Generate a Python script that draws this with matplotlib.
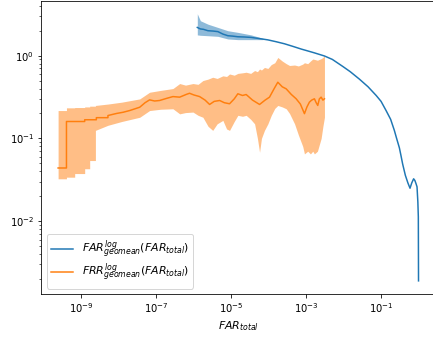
import numpy as np
import matplotlib
matplotlib.use("Agg")
import matplotlib.pyplot as plt

# FAR geomean curve (blue)
far_x = [1.24e-6, 1.5e-6, 1.8e-6, 2.38e-6, 3.3e-6, 4.4e-6, 6.0e-6, 8.1e-6, 1.1e-5,
         1.5e-5, 2.2e-5, 3.4e-5, 6.0e-5, 9.5e-5, 1.6e-4, 2.64e-4, 4.5e-4, 7.4e-4,
         1.1e-3, 1.66e-3, 3.08e-3, 5.0e-3, 9.5e-3, 1.5e-2, 2.64e-2, 4.5e-2,
         7.4e-2, 0.1, 0.136, 0.18, 0.226, 0.26, 0.308, 0.34, 0.377, 0.445,
         0.52, 0.593, 0.66, 0.74, 0.8, 0.857, 0.912, 0.96, 0.988, 1.0]
far_y = [2.19, 2.1, 2.08, 2.0, 1.98, 1.95, 1.82, 1.74, 1.72,
         1.69, 1.68, 1.66, 1.6, 1.55, 1.47, 1.39, 1.29, 1.2,
         1.14, 1.08, 0.99, 0.9, 0.74, 0.64, 0.52, 0.42,
         0.33, 0.28, 0.217, 0.17, 0.125, 0.1, 0.077, 0.062, 0.049, 0.0358,
         0.029, 0.025, 0.029, 0.0325, 0.031, 0.0284, 0.026, 0.017, 0.0113, 0.0019]

far_band_x = [1.24e-6, 1.5e-6, 2.38e-6, 4.4e-6, 8.1e-6, 1.5e-5, 3.4e-5, 7.0e-5]
far_band_hi = [3.2, 2.64, 2.4, 2.19, 2.0, 1.91, 1.78, 1.62]
far_band_lo = [1.78, 1.76, 1.74, 1.71, 1.59, 1.56, 1.56, 1.56]

# FRR geomean curve (orange)
frr_x = [2.38e-10, 3.98e-10, 3.98e-10, 1.22e-9, 1.22e-9, 2.5e-9, 2.5e-9, 5.1e-9,
         5.1e-9, 8.6e-9, 1.3e-8, 1.94e-8, 3.6e-8, 5.0e-8, 6.6e-8, 9.0e-8,
         1.22e-7, 1.9e-7, 2.77e-7, 4.2e-7, 6.3e-7, 7.7e-7, 1.0e-6, 1.43e-6,
         2.0e-6, 2.64e-6, 3.5e-6, 4.9e-6, 6.5e-6, 9.0e-6, 1.2e-5, 1.5e-5,
         2.0e-5, 2.5e-5, 3.7e-5, 5.7e-5, 8.0e-5, 1.05e-4, 1.4e-4, 1.75e-4,
         2.3e-4, 2.93e-4, 4.0e-4, 5.4e-4, 7.0e-4, 9.0e-4, 1.05e-3, 1.22e-3,
         1.4e-3, 1.66e-3, 1.85e-3, 2.04e-3, 2.25e-3, 2.51e-3, 2.8e-3, 3.08e-3]
frr_y = [0.0439, 0.0439, 0.16, 0.16, 0.168, 0.168, 0.178, 0.178,
         0.189, 0.2, 0.207, 0.217, 0.238, 0.27, 0.292, 0.283,
         0.287, 0.305, 0.32, 0.315, 0.34, 0.351, 0.335, 0.32,
         0.29, 0.257, 0.28, 0.287, 0.27, 0.262, 0.3, 0.346,
         0.33, 0.339, 0.29, 0.257, 0.29, 0.315, 0.4, 0.477,
         0.42, 0.397, 0.34, 0.301, 0.26, 0.199, 0.24, 0.274,
         0.29, 0.301, 0.27, 0.25, 0.3, 0.315, 0.29, 0.301]

frr_band_x = [2.38e-10, 3.98e-10, 3.98e-10, 6.6e-10, 6.6e-10, 1.22e-9, 1.22e-9, 1.66e-9,
              1.66e-9, 2.36e-9, 2.36e-9, 5.1e-9, 1.19e-8, 3.6e-8, 6.6e-8, 1.3e-7,
              2.77e-7, 4.2e-7, 6.0e-7, 9.5e-7, 1.3e-6, 1.75e-6, 2.4e-6, 3.2e-6,
              4.2e-6, 5.97e-6, 7.5e-6, 9.0e-6, 1.2e-5, 1.5e-5, 2.0e-5, 2.5e-5,
              3.3e-5, 4.2e-5, 5.0e-5, 5.7e-5, 6.4e-5, 7.7e-5, 9.5e-5, 1.17e-4,
              1.45e-4, 1.75e-4, 2.3e-4, 2.93e-4, 3.6e-4, 4.9e-4, 6.2e-4, 8.1e-4,
              9.0e-4, 1.1e-3, 1.3e-3, 1.5e-3, 1.66e-3, 2.0e-3, 2.51e-3, 2.8e-3,
              3.08e-3]
frr_band_hi = [0.217, 0.217, 0.234, 0.234, 0.236, 0.236, 0.24, 0.24,
               0.245, 0.245, 0.25, 0.26, 0.274, 0.30, 0.361, 0.38,
               0.40, 0.46, 0.44, 0.46, 0.45, 0.50, 0.52, 0.548,
               0.53, 0.57, 0.56, 0.60, 0.58, 0.61, 0.62, 0.63,
               0.61, 0.66, 0.64, 0.69, 0.67, 0.72, 0.70, 0.78,
               0.82, 0.95, 0.86, 0.80, 0.76, 0.77, 0.75, 0.79,
               0.82, 0.80, 0.86, 0.91, 0.90, 0.88, 0.92, 0.95,
               1.0]
frr_band_lo = [0.0325, 0.0325, 0.034, 0.034, 0.0376, 0.0376, 0.043, 0.043,
               0.054, 0.054, 0.125, 0.144, 0.16, 0.18, 0.217, 0.225,
               0.228, 0.198, 0.205, 0.208, 0.19, 0.18, 0.14, 0.125,
               0.15, 0.165, 0.13, 0.125, 0.16, 0.19, 0.185, 0.19,
               0.17, 0.15, 0.1, 0.068, 0.1, 0.125, 0.15, 0.19,
               0.23, 0.25, 0.24, 0.228, 0.20, 0.15, 0.11, 0.08,
               0.065, 0.07, 0.065, 0.07, 0.065, 0.07, 0.10, 0.14,
               0.18]

fig = plt.figure(figsize=(433 / 72, 337 / 72), dpi=72)
ax = fig.add_axes([41 / 433, 43 / 337, 395.5 / 433, 293 / 337])

ax.plot(far_x, far_y, color="C0", label=r"$FAR^{log}_{geomean}(FAR_{total})$")
ax.fill_between(far_band_x, far_band_lo, far_band_hi, color="C0", alpha=0.5, lw=0)
ax.plot(frr_x, frr_y, color="C1", label=r"$FRR^{log}_{geomean}(FAR_{total})$")
ax.fill_between(frr_band_x, frr_band_lo, frr_band_hi, color="C1", alpha=0.5, lw=0)

ax.set_xscale("log")
ax.set_yscale("log")
ax.set_xlim(10 ** -10.08, 10 ** 0.48)
ax.set_ylim(10 ** -2.88, 10 ** 0.66)
ax.set_xticks([1e-9, 1e-7, 1e-5, 1e-3, 1e-1])
ax.set_xlabel(r"$FAR_{total}$", fontsize=11)
ax.legend(loc="lower left", fontsize=11, labelspacing=0.1)

fig.savefig("out.png", dpi=72)
